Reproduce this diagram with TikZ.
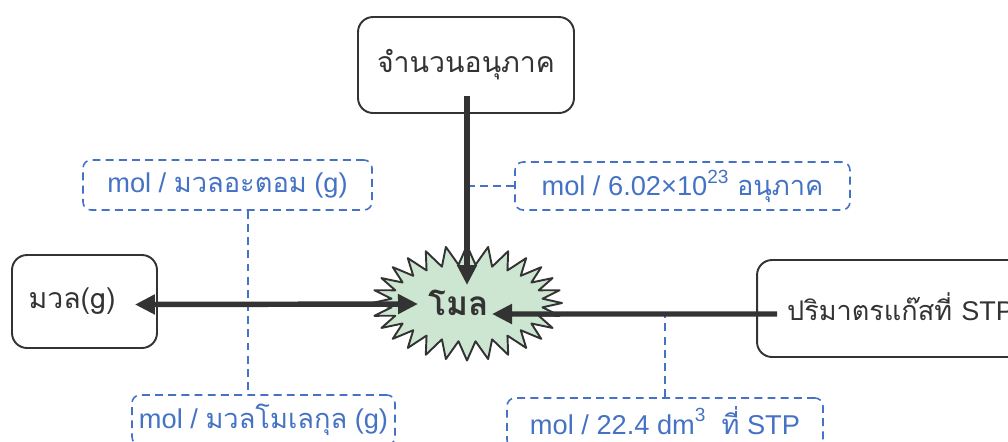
\documentclass[tikz,border=0pt]{standalone}
\usepackage{fontspec}
\setmainfont{Liberation Sans}
\newfontfamily\thaifont[Script=Thai]{Loma}
\usetikzlibrary{shapes.symbols,arrows.meta}
\definecolor{ink}{HTML}{333333}
\definecolor{noteblue}{HTML}{4472C4}
\definecolor{molgreen}{HTML}{CCE6D2}
\tikzset{
	box/.style={draw=ink, line width=1.1pt, rounded corners=0.3cm, text=ink, font=\fontsize{16.2}{19}\selectfont\thaifont},
	note/.style={draw=noteblue, line width=0.9pt, dash pattern=on 4.5pt off 3pt, rounded corners=0.16cm, text=noteblue, font=\fontsize{15.5}{18}\selectfont},
	link/.style={draw=noteblue, line width=0.9pt, dash pattern=on 4.5pt off 3pt},
	arr/.style={draw=ink, line width=3.1pt}
}
\begin{document}
\begin{tikzpicture}[x=0.02cm, y=-0.02cm, >={Triangle[length=0.4cm,width=0.38cm]}, line join=round]
	\useasboundingbox (0,0) rectangle (1008,441);
	\clip (0,0) rectangle (1008,441);
	\node[box, minimum width=4.32cm, minimum height=1.92cm] (count) at (466,65) {\raisebox{0.1cm}{จำนวนอนุภาค}};
	\node[box, minimum width=2.9cm, minimum height=1.86cm] (mass) at (84.5,301.5) {มวล(g)\hspace*{0.5cm}};
	\node[box, minimum width=6cm, minimum height=1.94cm, font=\fontsize{15.4}{18}\selectfont\thaifont] (gas) at (907,308.5) {\raisebox{0.06cm}{ปริมาตรแก๊สที่ \fontspec{Liberation Sans}STP}\hspace*{0.26cm}};
	\node[starburst, starburst points=28, starburst point height=0.38cm, random starburst=0, fill=molgreen, draw=ink, line width=1.1pt, minimum width=3.8cm, minimum height=2.3cm, text=ink, font=\fontsize{19}{22}\selectfont\thaifont\bfseries] (mol) at (467,303) {โมล\hspace*{0.35cm}};
	\node[note, minimum width=5.78cm, minimum height=1cm] (atom) at (227.5,185) {mol / {\thaifont มวลอะตอม} (g)};
	\node[note, minimum width=6.7cm, minimum height=0.96cm] (part) at (682.5,186) {mol / 6.02\texttimes10\textsuperscript{\raisebox{0.06cm}{23}} {\thaifont อนุภาค}};
	\node[note, minimum width=5.26cm, minimum height=1cm] (molec) at (263.5,420) {\raisebox{0.04cm}{mol / {\thaifont มวลโมเลกุล} (g)}};
	\node[note, minimum width=6.32cm, minimum height=1cm] (vol) at (665,423) {\raisebox{0.12cm}{mol / 22.4 dm\textsuperscript{\raisebox{0.06cm}{3}}\ \ {\thaifont ที่} STP}};
	\path
	(count.south)+(1,-18)coordinate(countin)
	(mass.east)+(-23,3)coordinate(massin)
	(gas.west)+(21,5.5)coordinate(gasin)
	(mol.center)+(0,-18)coordinate(moltop)
	(mol.center)+(-49,1)coordinate(molleft)
	(mol.center)+(25,11)coordinate(molright)
	;
	\draw[link] ([xshift=0.41cm]atom.south) -- ([xshift=0.41cm]atom.south |- molec.north);
	\draw[link] (part.west) -- (part.west -| countin);
	\draw[link] (vol.north) -- (vol.north |- gasin);
	\draw[arr,->] (countin) -- (moltop);
	\draw[arr,<->] (massin) -- (molleft);
	\draw[arr,->] (gasin) -- (molright);
\end{tikzpicture}
\end{document}
